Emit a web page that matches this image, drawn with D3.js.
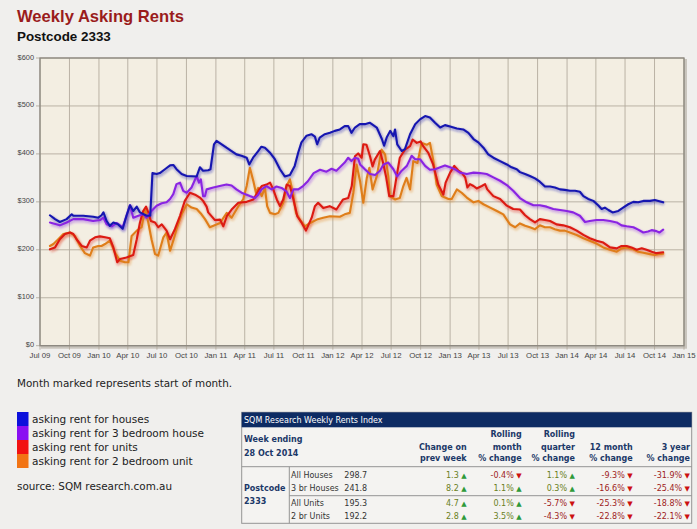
<!DOCTYPE html>
<html><head><meta charset="utf-8">
<script src="https://cdnjs.cloudflare.com/ajax/libs/d3/7.8.5/d3.min.js"></script>
<style>
html,body{margin:0;padding:0;background:#f0efed;}
svg{display:block;}
</style></head>
<body>
<svg id="chart" width="697" height="529"></svg>
<script>
// ---------- DATA ----------
const seriesNames = ["asking rent for houses","asking rent for 3 bedroom house","asking rent for units","asking rent for 2 bedroom unit"];
const yTicks = [0,100,200,300,400,500,600];

const houses = [
["2009-08-01",272],["2009-08-17",264],["2009-09-01",258],["2009-09-22",264],["2009-10-08",274],["2009-10-13",271],
["2009-11-13",271],["2009-12-14",269],["2009-12-30",267],["2010-01-09",272],["2010-01-15",278],["2010-01-25",260],
["2010-02-04",250],["2010-02-15",257],["2010-03-02",253],["2010-03-16",244],["2010-03-28",271],["2010-04-08",293],
["2010-04-18",281],["2010-04-29",290],["2010-05-09",278],["2010-05-30",271],["2010-06-10",271],["2010-06-17",360],
["2010-06-30",358],["2010-07-10",360],["2010-07-26",368],["2010-08-11",376],["2010-08-21",377],["2010-08-31",368],
["2010-09-16",358],["2010-10-02",354],["2010-11-02",353],["2010-11-12",372],["2010-11-22",365],["2010-12-08",366],
["2010-12-15",368],["2010-12-26",420],["2011-01-03",427],["2011-01-19",420],["2011-02-03",413],["2011-02-19",406],
["2011-03-06",399],["2011-03-22",396],["2011-04-07",392],["2011-04-15",378],["2011-04-27",392],["2011-05-13",406],
["2011-05-23",415],["2011-06-03",413],["2011-06-18",403],["2011-07-04",389],["2011-07-20",368],["2011-08-04",353],
["2011-08-20",356],["2011-09-04",375],["2011-09-15",403],["2011-09-25",424],["2011-10-11",438],["2011-10-26",441],
["2011-11-06",436],["2011-11-13",420],["2011-11-21",434],["2011-12-07",441],["2011-12-23",444],["2012-01-07",448],
["2012-01-23",451],["2012-02-07",458],["2012-02-18",458],["2012-02-28",444],["2012-03-10",455],["2012-03-25",462],
["2012-04-10",462],["2012-04-25",465],["2012-05-17",455],["2012-06-02",431],["2012-06-09",417],["2012-06-17",434],
["2012-06-28",448],["2012-07-08",437],["2012-07-13",451],["2012-07-20",420],["2012-08-03",406],["2012-08-13",410],
["2012-08-29",441],["2012-09-14",462],["2012-09-29",472],["2012-10-15",479],["2012-10-30",476],["2012-11-15",465],
["2012-12-01",455],["2012-12-16",460],["2013-01-01",457],["2013-01-22",453],["2013-02-11",451],["2013-02-27",444],
["2013-03-15",431],["2013-03-30",424],["2013-04-15",413],["2013-04-30",399],["2013-05-16",392],["2013-06-06",385],
["2013-06-27",378],["2013-07-12",372],["2013-07-28",368],["2013-08-07",362],["2013-08-23",358],["2013-09-07",354],
["2013-09-23",349],["2013-10-08",342],["2013-10-24",332],["2013-11-09",332],["2013-11-24",330],["2013-12-10",326],
["2013-12-25",325],["2014-01-10",323],["2014-01-26",323],["2014-02-10",321],["2014-02-21",312],["2014-03-08",306],
["2014-03-24",302],["2014-04-08",293],["2014-04-19",285],["2014-04-29",288],["2014-05-10",283],["2014-05-23",278],
["2014-06-10",281],["2014-06-25",288],["2014-07-11",295],["2014-07-27",300],["2014-08-11",299],["2014-08-27",302],
["2014-09-17",302],["2014-10-02",304],["2014-10-13",302],["2014-10-28",299]
];

const houses3br = [
["2009-08-01",257],["2009-09-01",251],["2009-09-22",257],["2009-10-13",264],["2009-11-13",264],["2009-12-14",260],
["2010-01-04",262],["2010-01-15",267],["2010-01-25",253],["2010-02-10",249],["2010-02-25",256],["2010-03-16",247],
["2010-03-28",271],["2010-04-08",293],["2010-04-18",267],["2010-05-04",271],["2010-05-19",274],["2010-05-30",267],
["2010-06-14",281],["2010-06-30",292],["2010-07-16",297],["2010-07-31",299],["2010-08-11",306],["2010-08-21",316],
["2010-08-31",337],["2010-09-11",340],["2010-09-21",323],["2010-10-02",319],["2010-10-17",330],["2010-10-27",345],
["2010-11-02",354],["2010-11-09",340],["2010-11-15",347],["2010-11-22",312],["2010-11-28",312],["2010-12-03",326],
["2010-12-24",330],["2011-01-13",333],["2011-02-03",336],["2011-02-19",334],["2011-03-06",326],["2011-03-22",319],
["2011-04-17",312],["2011-05-03",308],["2011-05-13",315],["2011-05-23",326],["2011-06-08",333],["2011-06-24",326],
["2011-07-09",332],["2011-07-25",329],["2011-08-09",322],["2011-08-20",308],["2011-08-31",326],["2011-09-15",326],
["2011-09-30",333],["2011-10-15",343],["2011-11-02",360],["2011-11-22",367],["2011-12-12",363],
["2011-12-28",369],["2012-01-12",365],["2012-01-23",372],["2012-02-07",382],["2012-02-18",392],["2012-02-28",385],
["2012-03-10",392],["2012-03-20",390],["2012-03-26",378],["2012-04-10",368],["2012-04-26",358],["2012-05-12",356],
["2012-05-27",365],["2012-06-07",378],["2012-06-22",382],["2012-07-08",368],["2012-07-20",353],["2012-08-03",365],
["2012-08-19",375],["2012-09-03",396],["2012-09-14",389],["2012-09-29",389],["2012-10-15",375],["2012-10-30",367],
["2012-11-15",368],["2012-12-01",372],["2012-12-16",376],["2013-01-01",372],["2013-01-16",368],["2013-02-01",361],
["2013-02-22",358],["2013-03-15",361],["2013-04-04",360],["2013-04-25",358],["2013-05-16",351],["2013-06-06",344],
["2013-06-27",335],["2013-07-17",323],["2013-08-07",308],["2013-08-28",299],["2013-09-18",293],["2013-10-08",293],
["2013-10-29",290],["2013-11-19",285],["2013-12-10",283],["2013-12-31",281],["2014-01-20",278],["2014-02-10",271],
["2014-02-26",258],["2014-03-13",260],["2014-04-03",262],["2014-04-24",262],["2014-05-15",260],["2014-06-05",257],
["2014-06-20",251],["2014-07-06",249],["2014-07-27",247],["2014-08-11",242],["2014-08-27",236],["2014-09-11",238],
["2014-09-22",241],["2014-10-07",239],["2014-10-16",236],["2014-10-28",242]
];

const units = [
["2009-08-01",201],["2009-08-17",205],["2009-09-01",222],["2009-09-17",233],["2009-10-03",236],["2009-10-13",233],
["2009-10-23",222],["2009-11-08",208],["2009-11-24",205],["2009-12-04",219],["2009-12-20",226],["2010-01-04",228],
["2010-01-20",226],["2010-02-04",224],["2010-02-15",205],["2010-02-27",174],["2010-03-08",181],["2010-03-28",184],
["2010-04-18",189],["2010-04-29",222],["2010-05-09",257],["2010-05-19",281],["2010-05-28",290],["2010-06-04",278],
["2010-06-12",260],["2010-06-25",257],["2010-07-05",247],["2010-07-16",253],["2010-07-31",240],["2010-08-11",222],
["2010-08-26",243],["2010-09-11",271],["2010-09-26",302],["2010-10-12",319],["2010-10-28",315],["2010-11-12",309],
["2010-11-22",302],["2010-12-03",290],["2010-12-08",278],["2010-12-29",262],["2011-01-14",263],["2011-01-24",249],
["2011-02-04",270],["2011-02-19",284],["2011-03-12",298],["2011-04-07",300],["2011-04-28",305],["2011-05-16",326],
["2011-05-24",333],["2011-06-08",336],["2011-06-19",340],["2011-06-29",326],["2011-07-10",305],["2011-07-20",291],
["2011-07-30",305],["2011-08-10",336],["2011-08-20",333],["2011-08-31",305],["2011-09-12",270],["2011-09-26",256],
["2011-10-09",240],["2011-10-27",267],["2011-11-06",291],["2011-11-16",298],["2011-12-02",287],["2011-12-22",291],
["2012-01-12",284],["2012-02-02",305],["2012-02-18",308],["2012-02-29",333],["2012-03-10",395],["2012-03-20",401],
["2012-03-31",392],["2012-04-05",420],["2012-04-15",419],["2012-04-26",395],["2012-05-04",374],["2012-05-11",388],
["2012-05-27",406],["2012-06-06",381],["2012-06-15",353],["2012-06-25",312],["2012-07-08",312],["2012-07-18",353],
["2012-07-28",392],["2012-08-13",409],["2012-08-29",416],["2012-09-06",430],["2012-09-19",423],["2012-10-01",426],
["2012-10-09",416],["2012-10-25",402],["2012-11-09",378],["2012-11-25",336],["2012-12-11",315],["2012-12-18",340],
["2013-01-01",361],["2013-01-14",375],
["2013-01-27",365],["2013-02-06",361],["2013-02-17",351],["2013-02-24",330],["2013-03-04",337],["2013-03-15",333],
["2013-03-25",328],["2013-04-10",333],["2013-04-20",337],["2013-04-27",326],["2013-05-16",312],["2013-06-06",306],
["2013-06-27",292],["2013-07-17",285],["2013-08-07",284],["2013-08-23",272],["2013-09-07",264],["2013-09-23",257],
["2013-10-08",264],["2013-10-24",262],["2013-11-09",260],["2013-11-29",253],["2013-12-20",251],["2014-01-10",247],
["2014-01-31",240],["2014-02-21",231],["2014-03-13",224],["2014-04-03",219],["2014-04-24",215],["2014-05-15",205],
["2014-06-05",203],["2014-06-20",208],["2014-07-06",208],["2014-07-21",205],["2014-08-06",200],["2014-08-22",203],
["2014-09-06",200],["2014-09-22",196],["2014-10-07",193],["2014-10-28",195]
];

const units2br = [
["2009-08-01",208],["2009-08-12",212],["2009-08-27",222],["2009-09-12",233],["2009-10-03",236],["2009-10-18",229],
["2009-11-03",208],["2009-11-18",193],["2009-12-04",188],["2009-12-14",205],["2009-12-30",208],["2010-01-09",208],
["2010-01-20",212],["2010-02-04",219],["2010-02-20",194],["2010-03-08",177],["2010-03-23",174],["2010-04-03",174],
["2010-04-13",229],["2010-04-29",240],["2010-05-14",247],["2010-05-25",285],["2010-06-04",257],["2010-06-14",222],
["2010-06-25",191],["2010-07-05",188],["2010-07-21",226],["2010-07-31",236],["2010-08-11",198],["2010-08-21",219],
["2010-08-31",243],["2010-09-16",274],["2010-10-02",295],["2010-10-17",288],["2010-11-02",285],["2010-11-17",274],
["2010-11-28",264],["2010-12-13",247],["2011-01-14",256],["2011-02-04",277],["2011-02-19",267],["2011-03-12",291],
["2011-03-27",305],["2011-04-07",333],["2011-04-17",371],["2011-04-28",343],["2011-05-06",319],["2011-05-13",329],
["2011-05-24",312],["2011-06-03",329],["2011-06-10",291],["2011-06-19",277],["2011-07-04",274],["2011-07-15",277],
["2011-07-30",298],["2011-08-10",333],["2011-08-20",347],["2011-08-29",319],["2011-09-08",277],["2011-09-20",263],
["2011-10-06",249],["2011-10-22",256],["2011-11-12",263],["2011-12-02",267],["2011-12-23",270],["2012-01-23",269],
["2012-02-07",274],["2012-02-23",277],["2012-03-05",319],["2012-03-15",378],["2012-03-26",343],["2012-04-05",298],
["2012-04-16",350],["2012-04-24",371],["2012-05-04",326],["2012-05-17",353],["2012-06-01",409],["2012-06-12",399],
["2012-06-22",353],["2012-06-27",312],["2012-07-13",305],["2012-07-28",308],["2012-08-08",333],["2012-08-18",350],
["2012-08-29",326],["2012-09-08",385],["2012-09-21",381],["2012-10-04",423],["2012-10-20",419],["2012-10-30",423],
["2012-11-09",388],["2012-11-20",336],["2012-12-06",312],["2012-12-27",306],
["2013-01-06",306],["2013-01-22",326],["2013-02-06",319],["2013-02-22",309],["2013-03-15",299],["2013-03-30",302],
["2013-04-15",295],["2013-05-06",288],["2013-05-27",281],["2013-06-16",274],["2013-07-07",253],["2013-07-23",247],
["2013-08-07",255],["2013-08-23",250],["2013-09-07",247],["2013-09-23",243],["2013-10-08",251],["2013-10-24",247],
["2013-11-09",247],["2013-11-24",243],["2013-12-10",240],["2013-12-25",240],["2014-01-10",236],["2014-01-31",231],
["2014-02-21",224],["2014-03-13",219],["2014-04-03",213],["2014-04-24",205],["2014-05-15",200],["2014-06-05",196],
["2014-06-20",203],["2014-07-06",205],["2014-07-27",201],["2014-08-11",196],["2014-08-27",194],["2014-09-17",191],
["2014-10-02",189],["2014-10-13",191],["2014-10-28",192]
];

// Table data
const tableTitle = "SQM Research Weekly Rents Index";
const tableWeek = ["Week ending","28 Oct 2014"];
const tableArea = ["Postcode","2333"];
const tableColHeads = [["Change on","prev week"],["Rolling","month","% change"],["Rolling","quarter","% change"],["12 month","% change"],["3 year","% change"]];
const tableRowNames = ["All Houses","3 br Houses","All Units","2 br Units"];
const tableLatest = ["298.7","241.8","195.3","192.2"];
const chgPrevWeek = [1.3, 8.2, 4.7, 2.8];
const chgMonth = [-0.4, 1.1, 0.1, 3.5];
const chgQuarter = [1.1, 0.3, -5.7, -4.3];
const chg12Month = [-9.3, -16.6, -25.3, -22.8];
const chg3Year = [-31.9, -25.4, -18.8, -22.1];

// ---------- DRAW ----------
const svg = d3.select("#chart");
const parse = d3.timeParse("%Y-%m-%d");
const seriesData = [houses, houses3br, units, units2br].map(s => s.map(d => ({date: parse(d[0]), value: d[1]})));
const lineColors = ["#1616b0","#8a24e2","#dc1a12","#df7e1a"];
const swatchColors = ["#0c10dc","#8a10f2","#f21212","#f27414"];

const L = 40, R = 684, T = 58, B = 345.7;
const x = d3.scaleTime().domain([new Date(2009,6,1), new Date(2015,0,1)]).range([L, R]);
const y = d3.scaleLinear().domain([0,600]).range([B, T]);

// titles
svg.append("text").attr("x",17).attr("y",22.3)
  .style("font-family","'Liberation Sans',Arial,sans-serif").style("font-weight","bold")
  .style("font-size","16.6px").attr("fill","#9a1c1c").text("Weekly Asking Rents");
svg.append("text").attr("x",17).attr("y",40.6)
  .style("font-family","'Liberation Sans',Arial,sans-serif").style("font-weight","bold")
  .style("font-size","13.4px").attr("fill","#111").text("Postcode 2333");

// defs
const defs = svg.append("defs");
const f = defs.append("filter").attr("id","blur").attr("x","-5%").attr("y","-5%").attr("width","110%").attr("height","110%");
f.append("feGaussianBlur").attr("stdDeviation",1.1);
defs.append("clipPath").attr("id","clip").append("rect").attr("x",L).attr("y",T).attr("width",R-L).attr("height",B-T);

// plot frame shadow + background
svg.append("rect").attr("x",L+1).attr("y",T+1).attr("width",R-L+2).attr("height",B-T+2).attr("fill","#c9c5bd");
svg.append("rect").attr("x",L).attr("y",T).attr("width",R-L).attr("height",B-T).attr("fill","#f3eee2");

// grid
const gx = d3.timeMonth.every(3).range(new Date(2009,6,1), new Date(2015,0,2));
svg.append("g").selectAll("line").data(gx).join("line")
  .attr("x1",d=>x(d)).attr("x2",d=>x(d)).attr("y1",T).attr("y2",B+4)
  .attr("stroke","#b3ab9e").attr("stroke-width",0.9);
svg.append("g").selectAll("line").data(yTicks).join("line")
  .attr("x1",L-4).attr("x2",R).attr("y1",d=>y(d)).attr("y2",d=>y(d))
  .attr("stroke","#b3ab9e").attr("stroke-width",0.9);

// frame
svg.append("rect").attr("x",L).attr("y",T).attr("width",R-L).attr("height",B-T)
  .attr("fill","none").attr("stroke","#8b877f").attr("stroke-width",1.3);

// y labels
svg.append("g").selectAll("text").data(yTicks).join("text")
  .attr("x",34).attr("y",d=>y(d)+1.5).attr("text-anchor","end")
  .style("font-family","'Liberation Sans',Arial,sans-serif").style("font-size","7.4px")
  .attr("fill","#444").text(d=>"$"+d);

// x labels
const fmt = d3.timeFormat("%b %y");
svg.append("g").selectAll("text").data(gx).join("text")
  .attr("x",d=>x(d)).attr("y",358).attr("text-anchor","middle")
  .style("font-family","'Liberation Sans Narrow','Liberation Sans',Arial,sans-serif").style("font-size","7.8px")
  .attr("fill","#444").text(d=>fmt(d));

// lines
const line = d3.line().x(d=>x(d.date)).y(d=>y(d.value));
const lg = svg.append("g").attr("clip-path","url(#clip)");
const order = [3,2,1,0];
order.forEach(i => {
  lg.append("path").datum(seriesData[i]).attr("d",line)
    .attr("fill","none").attr("stroke",lineColors[i]).attr("stroke-opacity",0.35)
    .attr("stroke-width",3.4).attr("transform","translate(1,1.6)").attr("filter","url(#blur)")
    .attr("stroke-linejoin","round");
});
order.forEach(i => {
  lg.append("path").datum(seriesData[i]).attr("d",line)
    .attr("fill","none").attr("stroke",lineColors[i]).attr("stroke-width",2.1)
    .attr("stroke-linejoin","round").attr("stroke-linecap","round");
});

// note
const sans = "'DejaVu Sans',Verdana,sans-serif";
svg.append("text").attr("x",17).attr("y",387).style("font-family",sans).style("font-size","10.4px")
  .attr("fill","#222").text("Month marked represents start of month.");

// legend
const leg = svg.append("g");
seriesNames.forEach((n,i) => {
  leg.append("rect").attr("x",17).attr("y",412+i*14).attr("width",11.5).attr("height",14).attr("fill",swatchColors[i]);
  leg.append("text").attr("x",32).attr("y",423+i*14).style("font-family",sans).style("font-size","10.5px")
    .attr("fill","#222").text(n);
});
svg.append("text").attr("x",17).attr("y",490).style("font-family",sans).style("font-size","10.4px")
  .attr("fill","#222").text("source: SQM research.com.au");

// table
const tX0 = 241.7, tX1 = 691.7, tY0 = 412.3, tY1 = 523.3;
const tg = svg.append("g").style("font-family",sans).style("font-size","8px");
tg.append("rect").attr("x",tX0).attr("y",tY0).attr("width",tX1-tX0).attr("height",tY1-tY0)
  .attr("fill","#f4f3f1").attr("stroke","#949494").attr("stroke-width",1);
tg.append("rect").attr("x",tX0).attr("y",tY0).attr("width",tX1-tX0).attr("height",15).attr("fill","#0d2b63");
tg.append("text").attr("x",244).attr("y",423.3).attr("fill","#fff").text(tableTitle);
const navy = "#1b3868";
tg.append("text").attr("x",244).attr("y",442.3).attr("fill",navy).style("font-weight","bold").text(tableWeek[0]);
tg.append("text").attr("x",244).attr("y",455.7).attr("fill",navy).style("font-weight","bold").text(tableWeek[1]);
const colRight = [466.7, 521.7, 575, 632.7, 690];
const headBase = [437.3, 450, 461];
tableColHeads.forEach((h,ci) => {
  h.forEach((t,k) => {
    const yy = headBase[headBase.length - h.length + k];
    tg.append("text").attr("x",colRight[ci]).attr("y",yy).attr("text-anchor","end")
      .attr("fill",navy).style("font-weight","bold").text(t);
  });
});
tg.append("line").attr("x1",tX0).attr("x2",tX1).attr("y1",466.7).attr("y2",466.7).attr("stroke","#949494");
tg.append("line").attr("x1",289.3).attr("x2",289.3).attr("y1",466.7).attr("y2",tY1).attr("stroke","#949494");
tg.append("line").attr("x1",289.3).attr("x2",tX1).attr("y1",495.7).attr("y2",495.7).attr("stroke","#949494");
tg.append("text").attr("x",244).attr("y",491).attr("fill",navy).style("font-weight","bold").text(tableArea[0]);
tg.append("text").attr("x",244).attr("y",504.3).attr("fill",navy).style("font-weight","bold").text(tableArea[1]);
const rowBase = [477.7, 491, 506, 519.3];
const cols = [chgPrevWeek, chgMonth, chgQuarter, chg12Month, chg3Year];
tableRowNames.forEach((n,ri) => {
  tg.append("text").attr("x",291).attr("y",rowBase[ri]).attr("fill","#333").text(n);
  tg.append("text").attr("x",344.3).attr("y",rowBase[ri]).attr("fill","#333").text(tableLatest[ri]);
  cols.forEach((c,ci) => {
    const v = c[ri];
    const up = v >= 0;
    const t = tg.append("text").attr("x",colRight[ci]).attr("y",rowBase[ri]).attr("text-anchor","end");
    t.append("tspan").attr("fill", up ? "#6a7f22" : "#9e1c1c").text(v.toFixed(1) + (ci>0 ? "%" : "") + " ");
    t.append("tspan").attr("fill", up ? "#2e9a3a" : "#cc1010").style("font-size","7px").text(up ? "▲" : "▼");
  });
});
</script>
</body></html>
